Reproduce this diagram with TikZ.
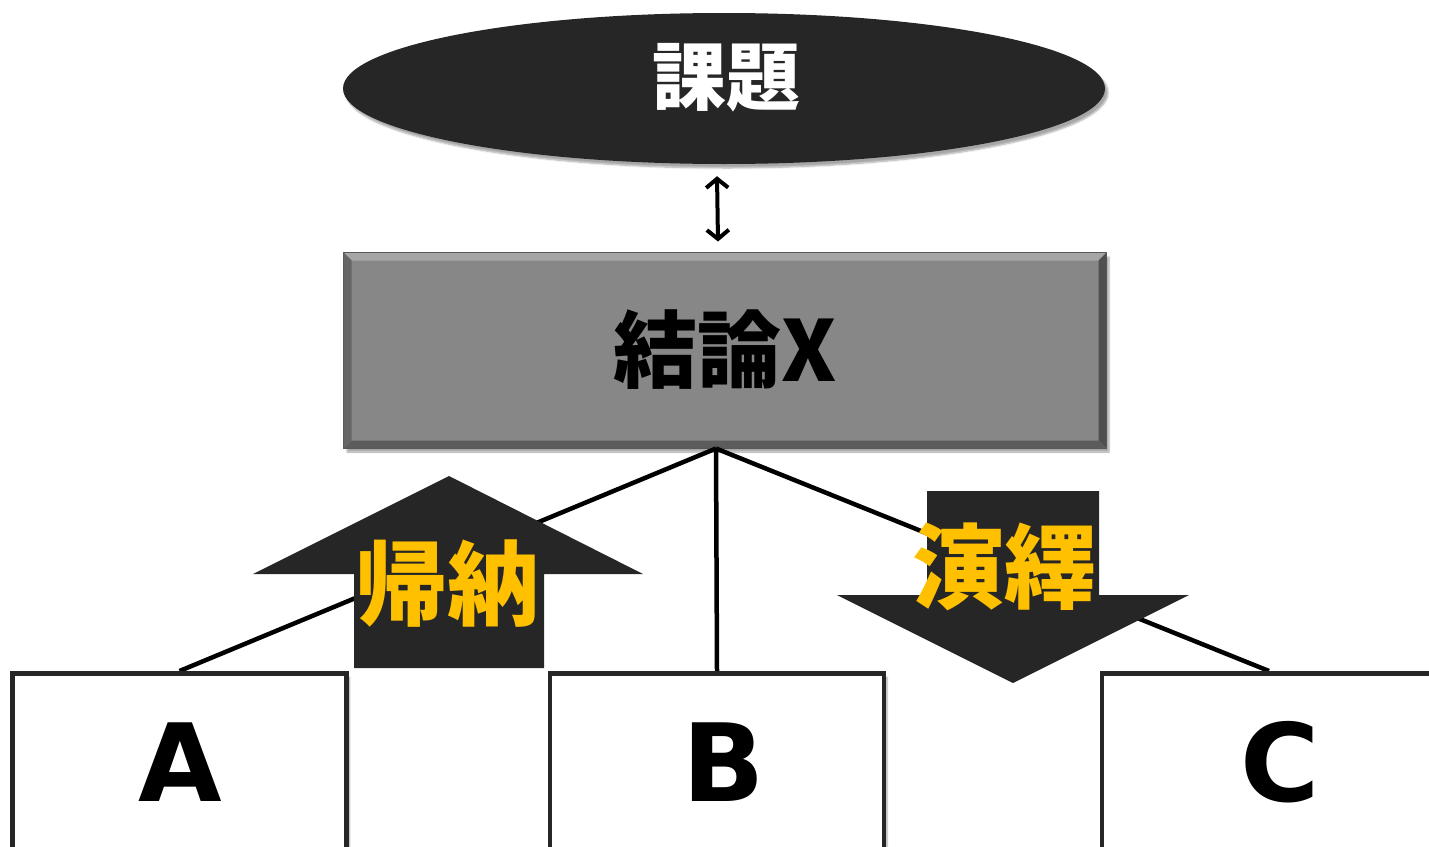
\documentclass[tikz,border=0pt]{standalone}
\usepackage{fontspec}
\newfontfamily\cjk{Noto Sans CJK JP}
\newfontfamily\lat{DejaVu Sans}
\usetikzlibrary{shapes.geometric,shadows.blur,calc,arrows.meta}
\definecolor{dark}{HTML}{262626}
\definecolor{midgray}{HTML}{878787}
\definecolor{gold}{HTML}{FFC000}
\begin{document}
\begin{tikzpicture}[x=1pt,y=-1pt,
  softshadow/.style={blur shadow={shadow xshift=3pt,shadow yshift=-4pt,shadow blur steps=6,shadow opacity=35}},
  leafbox/.style={draw=dark,line width=4.5pt,fill=white,minimum width=334pt,minimum height=182pt,inner sep=0pt,softshadow},
  conn/.style={line width=4.5pt,black},
  blockarrow/.style={fill=dark,draw=none},
  leaftext/.style={font=\lat\bfseries\fontsize{108}{110}\selectfont,inner sep=0pt},
  labeltext/.style={font=\cjk\bfseries\fontsize{92}{96}\selectfont,text=gold,inner sep=0pt}
]
\useasboundingbox (0,0) rectangle (1429,846);

% top ellipse
\node[ellipse,fill=dark,minimum width=762pt,minimum height=151pt,inner sep=0pt,softshadow] (kadai) at (724,88.5) {};
\node[font=\cjk\bfseries\fontsize{74}{78}\selectfont,text=white,inner sep=0pt] (kadaiT) at (726,78) {課題};

% conclusion box
\node[rectangle,fill=midgray,draw=gray!70!black,line width=1pt,minimum width=762pt,minimum height=195pt,inner sep=0pt,softshadow] (ketsu) at (725,350.5) {};
\fill[gray!70] (ketsu.north west) -- (ketsu.north east) -- ([shift={(-8,8)}]ketsu.north east) -- ([shift={(8,8)}]ketsu.north west) -- cycle;
\fill[gray!80!black] (ketsu.north west) -- ([shift={(8,8)}]ketsu.north west) -- ([shift={(8,-8)}]ketsu.south west) -- (ketsu.south west) -- cycle;
\fill[gray!62!black] (ketsu.north east) -- ([shift={(-8,8)}]ketsu.north east) -- ([shift={(-8,-8)}]ketsu.south east) -- (ketsu.south east) -- cycle;
\fill[gray!72!black] (ketsu.south west) -- ([shift={(8,-8)}]ketsu.south west) -- ([shift={(-8,-8)}]ketsu.south east) -- (ketsu.south east) -- cycle;
\draw[gray!70!black,line width=1pt] (ketsu.north west) rectangle (ketsu.south east);
\node[font=\cjk\bfseries\fontsize{84}{88}\selectfont,text=black,inner sep=0pt] (ketsuT) at (725,350) {結論X};

% double arrow
\draw[line width=4pt,{Straight Barb[length=9pt,width=22pt]}-{Straight Barb[length=9pt,width=22pt]}]
  ([shift={(-7,12)}]kadai.south) -- ([shift={(-7,-11)}]ketsu.north);

% leaf boxes positions
\coordinate (aTop) at (179.5,671);
\coordinate (bTop) at (717,671);
\coordinate (cTop) at (1269,671);
\coordinate (hub) at ([xshift=-9]ketsu.south);

% connectors
\draw[conn] (hub) -- (aTop);
\draw[conn] (hub) -- (bTop);
\draw[conn] (hub) -- (cTop);

% up arrow (induction)
\fill[blockarrow] (449,476) -- (643,574) -- (544,574) -- (544,668) -- (354,668) -- (354,574) -- (253,574) -- cycle;
\node[labeltext] (kino) at (447,584) {帰納};

% down arrow (deduction)
\fill[blockarrow] (927,491) -- (1099,491) -- (1099,595) -- (1189,595) -- (1013,683) -- (837,595) -- (927,595) -- cycle;
\node[labeltext] (eneki) at (1004,567) {演繹};

% leaf boxes
\node[leafbox,anchor=north] (A) at (aTop) {};
\node[leafbox,anchor=north] (B) at (bTop) {};
\node[leafbox,anchor=north] (C) at (cTop) {};
\node[leaftext] (AT) at (180,762) {A};
\node[leaftext] (BT) at (724,762) {B};
\node[leaftext] (CT) at (1280,762) {C};
\end{tikzpicture}
\end{document}
